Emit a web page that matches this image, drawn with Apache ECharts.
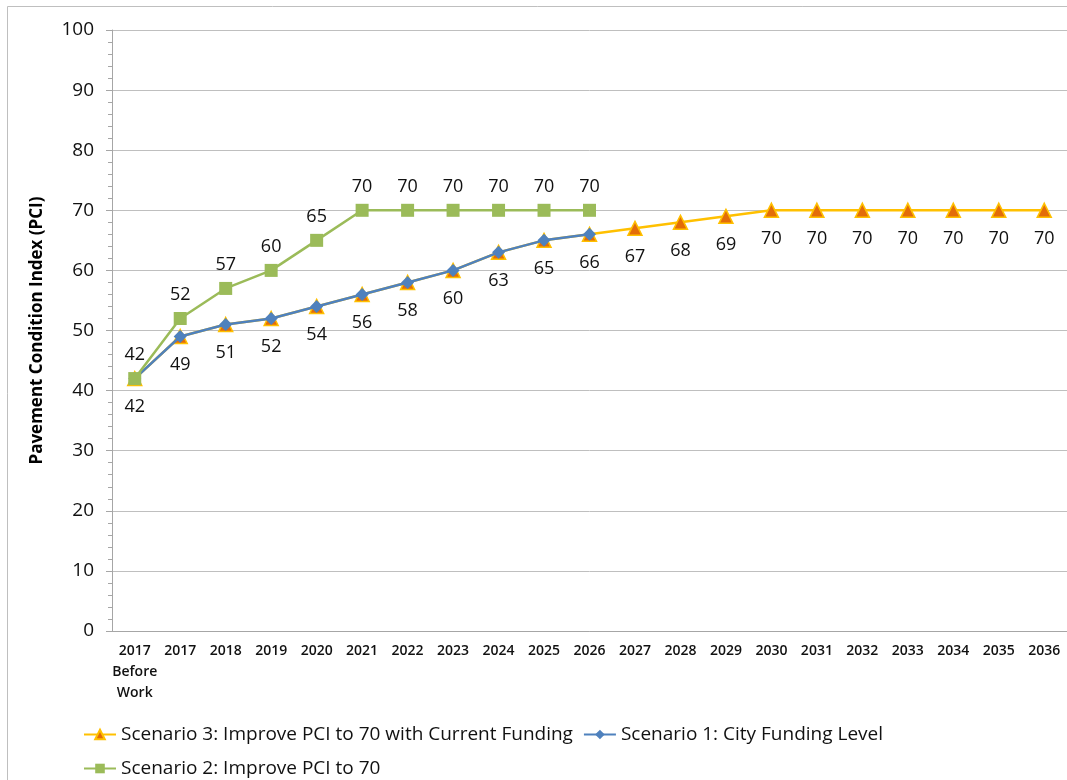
<!DOCTYPE html>
<html><head><meta charset='utf-8'>
<script src='https://cdn.jsdelivr.net/npm/echarts@6/dist/echarts.min.js'></script>
<style>
body{margin:0;background:#fff;}
#main{width:1067px;height:780px;}
</style>
</head><body>
<div id='main'></div>
<script>
// categories along the bottom
var years = ['2017\nBefore\nWork','2017','2018','2019','2020','2021','2022','2023','2024','2025','2026',
  '2027','2028','2029','2030','2031','2032','2033','2034','2035','2036'];

// PCI per scenario
var scen3 = [42,49,51,52,54,56,58,60,63,65,66,67,68,69,70,70,70,70,70,70,70];
var scen1 = [42,49,51,52,54,56,58,60,63,65,66];
var scen2 = [42,52,57,60,65,70,70,70,70,70,70];

var names = ['Scenario 3: Improve PCI to 70 with Current Funding',
             'Scenario 1: City Funding Level',
             'Scenario 2: Improve PCI to 70'];

var font = 'Open Sans';
var chart = echarts.init(document.getElementById('main'));

var legendText = {fontFamily: font, fontSize: 19, color: '#111'};

chart.setOption({
  animation: false,
  graphic: [{
    type: 'rect', shape: {x: 7.5, y: 6.5, width: 1100, height: 800},
    style: {fill: 'none', stroke: '#bfbfbf', lineWidth: 1}, silent: true, z: -1
  }],
  grid: {left: 112, top: 30, width: 958, height: 601},
  legend: [{
    data: [names[0], names[1]], left: 78, top: 720,
    itemWidth: 32, itemHeight: 12, itemGap: 10, textStyle: legendText,
    selectedMode: false
  }, {
    data: [names[2]], left: 78, top: 754,
    itemWidth: 32, itemHeight: 12, textStyle: legendText, selectedMode: false
  }],
  xAxis: {
    type: 'category', data: years, boundaryGap: true,
    axisLine: {lineStyle: {color: '#a6a6a6'}},
    axisTick: {show: false},
    axisLabel: {fontFamily: font, fontSize: 14, fontWeight: 600, color: '#111', margin: 10, lineHeight: 21, interval: 0}
  },
  yAxis: {
    type: 'value', min: 0, max: 100, interval: 10,
    name: 'Pavement Condition Index (PCI)', nameLocation: 'middle', nameGap: 66, nameRotate: 90,
    nameTextStyle: {fontFamily: font, fontSize: 17, fontWeight: 'bold', color: '#000'},
    axisLine: {show: true, lineStyle: {color: '#a6a6a6'}},
    axisTick: {show: true, inside: false, length: 6, lineStyle: {color: '#a6a6a6'}},
    minorTick: {show: true, splitNumber: 5, length: 4, lineStyle: {color: '#a6a6a6'}},
    splitLine: {lineStyle: {color: '#bfbfbf'}},
    axisLabel: {fontFamily: font, fontSize: 19, color: '#111', margin: 18}
  },
  series: [{
    name: names[0], type: 'line', data: scen3,
    symbol: 'triangle', symbolSize: 14,
    lineStyle: {color: '#ffc000', width: 2.5},
    itemStyle: {color: '#e36c09', borderColor: '#ffc000', borderWidth: 1.5},
    label: {show: true, position: 'bottom', distance: 12, fontFamily: font, fontSize: 18, color: '#111'},
    z: 2
  }, {
    name: names[1], type: 'line', data: scen1,
    symbol: 'diamond', symbolSize: 13,
    lineStyle: {color: '#4f81bd', width: 2.5},
    itemStyle: {color: '#4f81bd'},
    z: 3
  }, {
    name: names[2], type: 'line', data: scen2,
    symbol: 'rect', symbolSize: 13,
    lineStyle: {color: '#9bbb59', width: 2.5},
    itemStyle: {color: '#9bbb59'},
    label: {show: true, position: 'top', distance: 8, fontFamily: font, fontSize: 18, color: '#111'},
    z: 4
  }]
});
</script>
</body></html>
